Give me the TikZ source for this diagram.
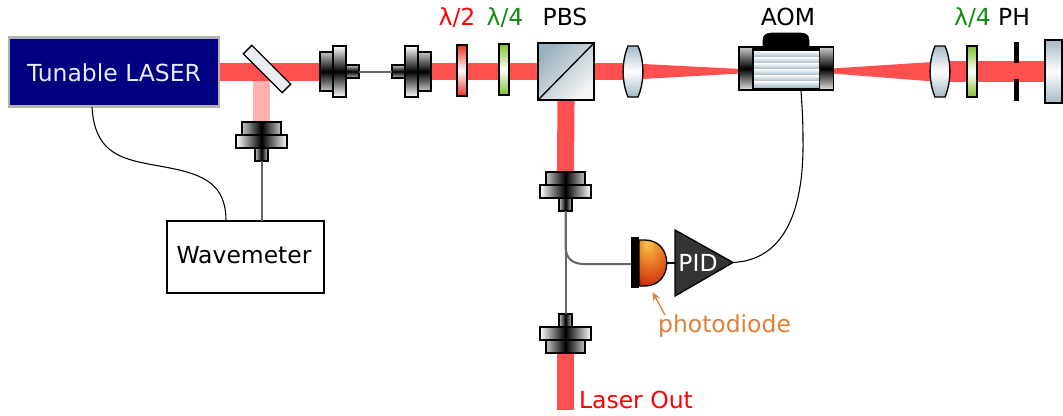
\documentclass[tikz,border=0pt]{standalone}
\usepackage{xcolor}
\usepackage{fontspec}
\setmainfont{DejaVu Sans}
\usetikzlibrary{arrows.meta, positioning, backgrounds}

\definecolor{beamred}{HTML}{FF5050}
\definecolor{beamfaint}{HTML}{FFB0B0}
\definecolor{lensblue}{HTML}{A5B9C6}
\definecolor{pbsblue}{HTML}{9CB1BF}
\definecolor{samplerwhite}{HTML}{E9EEF2}
\definecolor{labelgreen}{HTML}{0F8F0F}
\definecolor{labelorange}{HTML}{E07F35}
\definecolor{platered}{HTML}{F03020}
\definecolor{plategreen}{HTML}{80C030}
\definecolor{pdyellow}{HTML}{F5C842}
\definecolor{pdorange}{HTML}{EC7F28}
\definecolor{pdred}{HTML}{BE0E00}

\pgfdeclareradialshading{pdglow}{\pgfpoint{-14bp}{22bp}}{%
  color(0bp)=(pdyellow); color(16bp)=(pdorange);
  color(44bp)=(pdred); color(70bp)=(pdred)}

% fibre coupler: name, position, rotation, shading
\newcommand{\coupler}[4]{%
  \begin{scope}[shift={(#2)}, rotate=#3]
    \draw[part, #4=gray!45] (0,-19.5) rectangle (13,19.5);
    \draw[part, #4=white]   (13,-25.5) rectangle (26,25.5);
    \draw[part, #4=gray!45] (26,-6.5) rectangle (39,6.5);
    \coordinate (#1-mouth) at (0,0);
    \coordinate (#1-tip) at (39,0);
  \end{scope}}

% lens: name, position
\newcommand{\lens}[2]{%
  \coordinate (#1) at (#2);
  \draw[part, shift={(#2)}, top color=lensblue, bottom color=lensblue, middle color=white]
    (-5,-25.5) -- (5,-25.5) .. controls (11.5,-10) and (11.5,10) .. (5,25.5)
    -- (-5,25.5) .. controls (-11.5,10) and (-11.5,-10) .. cycle;}

\begin{document}
\begin{tikzpicture}[x=0.75pt, y=-0.75pt, >={Stealth[length=6.5pt, width=5.5pt]},
    part/.style={draw=black, line width=1pt},
    hshade/.style={left color=#1, right color=#1, middle color=black},
    vshade/.style={top color=#1, bottom color=#1, middle color=black},
    size/.style 2 args={minimum width=#1*0.75pt, minimum height=#2*0.75pt, inner sep=0pt, outer sep=0pt},
    beam/.style={draw=beamred, line width=12.8pt},
    fibre/.style={draw=black!60, line width=1.5pt},
    wire/.style={draw=black, line width=0.8pt},
    lbl/.style={font=\fontsize{17.6}{20}\selectfont, anchor=base, inner sep=0pt},
    plate/.style={part, size={10}{51}}]

  \useasboundingbox (0,0) rectangle (1063,415);

  % laser and wavemeter
  \node[size={210}{69}, fill={rgb,255:red,0;green,0;blue,128}, draw=black!30, line width=2pt] (laser) at (114,72) {};
  \node[lbl, text=white!92!blue] (lasertxt) at (114,81) {Tunable LASER};
  \node[size={157}{72}, draw=black, line width=1pt] (wavemeter) at (245.5,257) {};
  \node[lbl] (wavetxt) at (244,263) {Wavemeter};

  % beam sampler
  \node[part, size={55}{12}, rotate=-45, fill=samplerwhite] (sampler) at (267,69) {};

  % fibre couplers
  \coupler{fcA}{320,71.5}{0}{vshade}
  \coupler{fcB}{431,71.5}{180}{vshade}
  \coupler{fcW}{261.5,122}{-90}{hshade}
  \coupler{fcC}{565.5,172}{-90}{hshade}
  \coupler{fcD}{565.5,353}{90}{hshade}

  % waveplates
  \node[plate, top color=platered, bottom color=platered, middle color=white] (hwp) at (462,70.5) {};
  \node[plate, top color=plategreen, bottom color=plategreen, middle color=white] (qwpA) at (504,69.5) {};
  \node[plate, top color=plategreen, bottom color=plategreen, middle color=white] (qwpB) at (972,71.5) {};

  % cube
  \node[part, size={56}{57}, top color=pbsblue, bottom color=black!4, shading angle=45] (pbs) at (566,71.5) {};
  \draw[part] (pbs.south west) -- (pbs.north east);

  % lenses
  \lens{lensA}{633,71.5}
  \lens{lensB}{940,71.5}

  % acousto-optic modulator
  \draw[fill=black] (763,46) -- (763,40) .. controls (763,35) and (767,33) .. (771,33)
    -- (801,33) .. controls (805,33) and (809,35) .. (809,40) -- (809,46) -- cycle;
  \node[size={72}{45}, fill=black] (aom) at (786.5,68.5) {};
  \node[part, size={14}{43}, top color=gray!40, bottom color=white!90!black, middle color=black] (aomL) at (746,68.5) {};
  \node[part, size={14}{43}, top color=gray!40, bottom color=white!90!black, middle color=black] (aomR) at (826.5,68.5) {};
  \foreach \y in {51,57,63,69,75,81}
    \shade[top color=white, bottom color=lensblue] (754,\y) rectangle (819,\y+6);

  % pinhole and end mirror
  \node[size={5}{21}, fill=black] (phA) at (1016.5,52.5) {};
  \node[size={5}{22}, fill=black] (phB) at (1016.5,90) {};
  \node[part, size={17}{63}, top color=lensblue, bottom color=lensblue, middle color=white] (endmirror) at (1053.5,71.5) {};

  % photodiode and PID
  \node[size={8}{51}, fill=black] (pdbar) at (635,262.5) {};
  \shade[shading=pdglow, draw=black, line width=1pt] (639,240) -- (645,240)
    .. controls (674,240) and (674,286) .. (645,286) -- (639,286) -- cycle;
  \coordinate (pddome) at (667,263);
  \coordinate (pdin) at (631,264);
  \draw[part, fill=black!80] (675,230) -- (733,262.5) -- (675,296) -- cycle;
  \coordinate (pidin) at (675,263);
  \coordinate (pidout) at (733,262.5);
  \node[lbl, text=white] (pidtxt) at (698,271.5) {PID};

  % labels
  \node[lbl, text=red] (hwptxt) at (457,25) {λ/2};
  \node[lbl, text=labelgreen] (qwpAtxt) at (505,25) {λ/4};
  \node[lbl] (pbstxt) at (565,25) {PBS};
  \node[lbl] (aomtxt) at (788,25) {AOM};
  \node[lbl, text=labelgreen] (qwpBtxt) at (972.5,25) {λ/4};
  \node[lbl] (phtxt) at (1014,25) {PH};
  \node[lbl, text=labelorange] (pdtxt) at (724.5,332) {photodiode};
  \node[lbl, text=red] (outtxt) at (636,408) {Laser Out};

  \coordinate (pdtail) at (665,315);
  \coordinate (pdtip) at (652.5,292);
  \draw[->, draw=labelorange, line width=1pt] (pdtail) -- (pdtip);

  % fibres and wires
  \coordinate (aomrf) at (801,91);
  \coordinate (laserrf) at (92,107);
  \coordinate (waverf) at (226,221);
  \draw[fibre] (fcA-tip) -- (fcB-tip);
  \draw[fibre] (fcW-tip) -- (fcW-tip |- wavemeter.north);
  \draw[fibre] (fcC-tip) -- (fcD-tip);
  \draw[fibre] (fcC-tip) -- (565.5,246) .. controls (565.5,258) and (572,264) .. (584,264) -- (pdin);
  \draw[wire] (pddome) -- (pidin);
  \draw[wire] (pidout) .. controls (782,260) and (804,215) .. (803,140) .. controls (803,120) and (802,105) .. (aomrf);
  \draw[wire] (laserrf) .. controls (95,160) and (130,160) .. (170,168) .. controls (205,175) and (226,185) .. (waverf);

  % beams
  \begin{scope}[on background layer]
    \draw[draw=beamfaint, line width=12.5pt] (fcW-mouth) -- (fcW-mouth |- laser.east);
    \draw[beam] (laser.east) -- (laser.east -| fcA-mouth);
    \draw[beam] (fcB-mouth) -- (pbs.west);
    \draw[beam] (pbs.east) -- (lensA);
    \draw[beam] (pbs.south) -- (fcC-mouth);
    \draw[beam] (fcD-mouth) -- (565.5,410);
    \draw[beam, line width=15.5pt] (lensB) -- (endmirror);
    \fill[beamred] (lensA) ++(0,-8) -- (741,69) -- (741,73.5) -- (633,79.5) -- cycle;
    \fill[beamred] (lensB) ++(0,-10) -- (832,68.5) -- (832,73.5) -- (940,82) -- cycle;
  \end{scope}
\end{tikzpicture}
\end{document}
